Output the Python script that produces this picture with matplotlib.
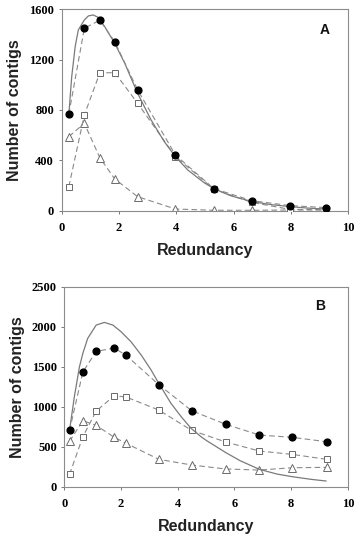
import matplotlib
matplotlib.use("Agg")
import matplotlib.pyplot as plt

# panel A
a_x = [0.25, 0.79, 1.33, 1.85, 2.65, 3.97, 5.31, 6.64, 7.97, 9.23]
a_total = [768, 1449, 1513, 1343, 959, 442, 175, 79, 40, 24]
a_square = [191, 760, 1094, 1097, 853, 429, 170, 65, 10, 8]
a_triangle = [588, 694, 421, 252, 111, 13, 3, 3, 5, 5]
a_fit_x = [0.25, 0.35, 0.47, 0.58, 0.79, 0.93, 1.10, 1.27, 1.50, 1.85, 2.20,
           2.65, 3.12, 3.58, 3.97, 4.40, 4.97, 5.31, 5.90, 6.64, 7.30, 7.97, 8.60, 9.23]
a_fit_y = [768, 1065, 1303, 1436, 1515, 1547, 1555, 1536, 1462, 1330, 1171,
           932, 720, 548, 429, 323, 222, 175, 118, 72, 48, 32, 20, 13]

# panel B
b_x = [0.18, 0.65, 1.12, 1.76, 2.18, 3.33, 4.49, 5.70, 6.88, 8.04, 9.26]
b_total = [704, 1433, 1692, 1733, 1642, 1275, 950, 779, 646, 617, 562]
b_square = [154, 625, 946, 1138, 1121, 958, 704, 558, 446, 404, 342]
b_triangle = [567, 825, 767, 617, 542, 342, 271, 221, 208, 237, 242]
b_fit_x = [0.18, 0.35, 0.53, 0.65, 0.82, 1.12, 1.41, 1.71, 2.00, 2.35, 2.71,
           3.06, 3.33, 3.76, 4.12, 4.47, 4.82, 5.02, 5.70, 6.20, 6.88, 7.50,
           8.04, 8.70, 9.23]
b_fit_y = [704, 1125, 1500, 1667, 1854, 2021, 2054, 2021, 1937, 1812, 1646,
           1458, 1292, 1042, 875, 729, 625, 575, 425, 325, 217, 158,
           125, 92, 71]

panels = [
    ("A", a_x, a_total, a_square, a_triangle, a_fit_x, a_fit_y, [0, 400, 800, 1200, 1600], 1600),
    ("B", b_x, b_total, b_square, b_triangle, b_fit_x, b_fit_y, [0, 500, 1000, 1500, 2000, 2500], 2500),
]
boxes = [[0.1733, 0.607, 0.805, 0.3757], [0.181, 0.092, 0.796, 0.373]]
letter_pos = [(0.919, 0.897), (0.902, 0.905)]

fig = plt.figure(figsize=(3.56, 5.36), dpi=100)
dash = (0, (5, 3))
line_col = "#8a8a8a"
edge_col = "#6a6a6a"

for i, (tag, x, tot, sq, tri, fx, fy, yt, ymax) in enumerate(panels):
    ax = fig.add_axes(boxes[i])
    ax.plot(x, tri, linestyle=dash, color=line_col, lw=0.8, marker="^", ms=5.5,
            mfc="white", mec=edge_col, mew=0.7, zorder=2)
    ax.plot(x, sq, linestyle=dash, color=line_col, lw=0.8, marker="s", ms=4.6,
            mfc="white", mec=edge_col, mew=0.7, zorder=3)
    ax.plot(fx, fy, color="#7a7a7a", lw=0.9, zorder=4)
    ax.plot(x, tot, linestyle=dash, color=line_col, lw=0.8, marker="o", ms=4.9,
            mfc="black", mec="black", zorder=5)

    ax.set_xlim(0, 10)
    ax.set_ylim(0, ymax)
    ax.set_xticks([0, 2, 4, 6, 8, 10])
    ax.set_yticks(yt)
    for lab in ax.get_xticklabels() + ax.get_yticklabels():
        lab.set_family("Liberation Serif")
        lab.set_fontweight("bold")
        lab.set_fontsize(9)
    ax.tick_params(direction="out", length=2.5, width=0.7, color="#777777")
    ax.tick_params(axis="x", pad=6)
    ax.tick_params(axis="y", pad=3)
    for sp in ax.spines.values():
        sp.set_color("#8c8c8c")
        sp.set_linewidth(0.8)

    ax.set_xlabel("Redundancy", family="Liberation Sans", fontweight="bold",
                  fontsize=11.5, color="#222222", labelpad=6)
    ax.set_ylabel("Number of contigs", family="Liberation Sans", fontweight="bold",
                  fontsize=11.5, color="#222222", labelpad=5)
    ax.text(letter_pos[i][0], letter_pos[i][1], tag, transform=ax.transAxes,
            ha="center", va="center", family="Liberation Sans", fontweight="bold",
            fontsize=10, color="#111111")

fig.savefig("out.png", dpi=100)
